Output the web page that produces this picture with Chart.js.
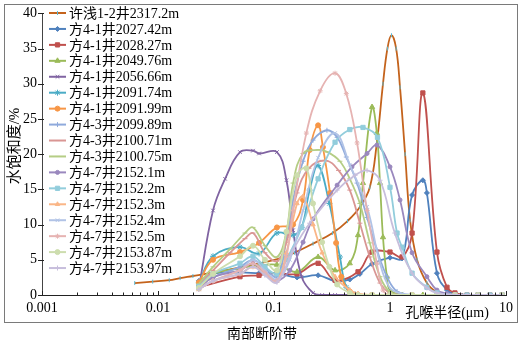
<!DOCTYPE html>
<html>
<head>
<meta charset="utf-8">
<script src="https://cdn.jsdelivr.net/npm/chart.js@4.4.1/dist/chart.umd.min.js"></script>
<style>
html,body{margin:0;padding:0;background:#fff;}
canvas{display:block;}
</style>
</head>
<body>
<canvas id="chart" width="523" height="345"></canvas>
<script>
const seriesNames = [
    "许浅1-2井2317.2m", "方4-1井2027.42m", "方4-1井2028.27m", "方4-1井2049.76m",
    "方4-1井2056.66m", "方4-1井2091.74m", "方4-1井2091.99m", "方4-3井2099.89m",
    "方4-3井2100.71m", "方4-3井2100.75m", "方4-7井2152.1m", "方4-7井2152.2m",
    "方4-7井2152.3m", "方4-7井2152.4m", "方4-7井2152.5m", "方4-7井2153.87m",
    "方4-7井2153.97m"
];

const xAxisTicks = [0.001, 0.01, 0.1, 1, 10];
const yAxisTicks = [0, 5, 10, 15, 20, 25, 30, 35, 40];

// radius (μm) / water saturation (%)
const r_xq2317 = [0.0063, 0.009, 0.0125, 0.0155, 0.02, 0.03, 0.05, 0.08, 0.113, 0.15, 0.217, 0.32, 0.43, 0.55, 0.67, 0.77, 0.87, 0.95, 1.03, 1.13, 1.22, 1.35, 1.49, 1.71, 2.08, 2.54, 3.2, 4.2, 5.5, 7.2, 9.5];
const v_xq2317 = [1.7, 1.9, 2.1, 2.4, 2.7, 3.2, 3.9, 4.6, 5.2, 6.0, 7.3, 8.8, 10.5, 12.5, 15.3, 21.6, 30.0, 35.0, 36.9, 35.0, 29.5, 20.0, 10.6, 5.0, 1.7, 0.4, 0.1, 0, 0, 0, 0];

const r_f2027 = [0.0225, 0.0298, 0.0509, 0.0743, 0.106, 0.158, 0.24, 0.336, 0.45, 0.55, 0.70, 1.0, 1.27, 1.55, 1.92, 2.08, 2.54, 3.10, 3.63, 4.61, 5.74, 7.28, 9.24];
const v_f2027 = [2.0, 3.0, 3.2, 3.1, 3.1, 2.5, 2.8, 2.0, 2.2, 3.0, 4.4, 5.3, 5.2, 14.2, 16.3, 14.5, 3.1, 0.7, 0.2, 0, 0, 0, 0];

const r_f2028 = [0.0225, 0.0509, 0.0743, 0.106, 0.158, 0.24, 0.336, 0.53, 0.70, 1.0, 1.27, 1.55, 1.92, 2.54, 3.10, 3.63, 4.61, 5.74, 7.28, 9.24];
const v_f2028 = [1.1, 2.6, 2.8, 3.1, 3.0, 4.5, 2.1, 3.3, 6.1, 6.1, 5.4, 8.8, 28.7, 6.1, 1.1, 0.3, 0, 0, 0, 0];

const r_f2049 = [0.0225, 0.0298, 0.0509, 0.0743, 0.106, 0.158, 0.24, 0.336, 0.45, 0.53, 0.585, 0.70, 0.77, 0.82, 0.87, 0.94, 1.0, 1.27, 1.55, 1.92, 2.54, 3.63, 4.61, 5.74, 7.28, 9.24];
const v_f2049 = [1.5, 3.0, 3.8, 4.2, 4.3, 3.3, 5.4, 3.5, 4.5, 8.5, 15.9, 26.7, 23.0, 15.9, 8.2, 2.6, 0.7, 0, 0, 0, 0, 0, 0, 0, 0, 0];

const r_f2056 = [0.0225, 0.0298, 0.0379, 0.0509, 0.0659, 0.0743, 0.106, 0.128, 0.146, 0.173, 0.217, 0.26, 0.336, 0.45, 0.70, 1.0, 1.55, 2.54, 3.63, 5.74, 9.24];
const v_f2056 = [1.0, 12.0, 16.5, 20.3, 20.5, 20.1, 20.3, 16.3, 9.2, 2.6, 0.3, 0, 0, 0, 0, 0, 0, 0, 0, 0, 0];

const r_f2091a = [0.0225, 0.0298, 0.0509, 0.0743, 0.106, 0.146, 0.173, 0.203, 0.24, 0.30, 0.37, 0.42, 0.5, 0.70, 1.0, 1.55, 2.54, 3.63, 5.74, 9.24];
const v_f2091a = [1.7, 5.5, 6.8, 5.9, 8.8, 8.5, 9.6, 14.9, 18.4, 13.0, 5.4, 1.1, 0.1, 0, 0, 0, 0, 0, 0, 0];

const r_f2091b = [0.0225, 0.0298, 0.0509, 0.0743, 0.106, 0.146, 0.178, 0.203, 0.24, 0.264, 0.304, 0.343, 0.38, 0.45, 0.53, 0.70, 1.0, 1.55, 2.54, 3.63, 5.74, 9.24];
const v_f2091b = [1.8, 5.0, 6.1, 7.4, 9.6, 10.0, 13.5, 20.6, 24.1, 21.0, 14.5, 7.4, 2.6, 0.5, 0, 0, 0, 0, 0, 0, 0, 0];

const r_f2099 = [0.0225, 0.0298, 0.0509, 0.0659, 0.0835, 0.106, 0.129, 0.146, 0.178, 0.217, 0.286, 0.35, 0.42, 0.52, 0.634, 0.772, 0.942, 1.15, 1.55, 2.54, 3.63, 5.74, 9.24];
const v_f2099 = [1.2, 2.5, 4.0, 5.0, 3.8, 2.6, 8.2, 13.5, 19.0, 22.0, 23.4, 22.4, 19.6, 15.9, 11.0, 6.4, 2.6, 0.5, 0, 0, 0, 0, 0];

const r_f2100a = [0.0225, 0.0298, 0.0418, 0.0562, 0.0659, 0.0835, 0.106, 0.128, 0.158, 0.2, 0.28, 0.36, 0.45, 0.55, 0.67, 0.82, 1.0, 1.27, 1.92, 2.54, 3.63, 5.74, 9.24];
const v_f2100a = [1.5, 3.5, 6.0, 8.0, 8.8, 6.0, 4.8, 7.5, 14.5, 18.0, 19.1, 17.7, 14.9, 10.2, 5.4, 1.7, 0.3, 0, 0, 0, 0, 0, 0];

const r_f2100b = [0.0225, 0.0298, 0.0418, 0.0562, 0.0659, 0.0835, 0.106, 0.128, 0.146, 0.178, 0.24, 0.29, 0.37, 0.45, 0.55, 0.67, 0.82, 1.0, 1.27, 1.92, 2.54, 3.63, 5.74, 9.24];
const v_f2100b = [1.6, 4.0, 6.5, 8.8, 9.6, 7.0, 5.4, 9.0, 15.9, 20.1, 20.6, 20.3, 19.0, 16.5, 13.0, 7.4, 2.6, 0.4, 0, 0, 0, 0, 0, 0];

const r_f2152a = [0.0225, 0.0298, 0.0509, 0.0659, 0.0835, 0.106, 0.137, 0.178, 0.217, 0.35, 0.47, 0.634, 0.772, 1.0, 1.22, 1.55, 2.08, 2.54, 3.1, 3.63, 4.61, 5.74, 7.28, 9.24];
const v_f2152a = [1.0, 2.5, 3.5, 4.5, 3.0, 2.0, 3.5, 7.5, 10.8, 15.6, 18.2, 20.1, 21.3, 18.2, 13.5, 6.0, 2.6, 0.7, 0.2, 0, 0, 0, 0, 0];

const r_f2152b = [0.0225, 0.0298, 0.0509, 0.0659, 0.0835, 0.106, 0.128, 0.173, 0.24, 0.336, 0.45, 0.585, 0.78, 1.0, 1.15, 1.27, 1.55, 2.08, 2.54, 3.63, 4.61, 5.74, 7.28, 9.24];
const v_f2152b = [1.2, 3.0, 4.5, 5.5, 4.0, 3.0, 5.0, 9.6, 16.5, 21.7, 23.5, 23.8, 22.4, 15.3, 8.8, 6.8, 3.1, 1.1, 0.3, 0, 0, 0, 0, 0];

const r_f2152c = [0.0225, 0.0298, 0.0509, 0.0659, 0.0835, 0.106, 0.128, 0.158, 0.178, 0.217, 0.26, 0.336, 0.45, 0.53, 0.70, 1.0, 1.55, 2.54, 3.63, 5.74, 9.24];
const v_f2152c = [0.8, 2.0, 3.0, 4.0, 3.0, 2.0, 6.0, 13.0, 14.0, 10.0, 6.0, 2.6, 0.7, 0.2, 0, 0, 0, 0, 0, 0, 0];

const r_f2152d = [0.0225, 0.0298, 0.0509, 0.0659, 0.0835, 0.106, 0.137, 0.178, 0.24, 0.336, 0.45, 0.634, 0.82, 1.0, 1.27, 1.55, 2.54, 3.63, 5.74, 9.24];
const v_f2152d = [0.8, 2.0, 3.5, 5.0, 3.5, 2.2, 5.0, 12.0, 19.5, 23.0, 18.5, 12.5, 4.5, 1.0, 0.2, 0, 0, 0, 0, 0];

const r_f2152e = [0.0225, 0.0298, 0.0509, 0.0659, 0.0835, 0.106, 0.128, 0.146, 0.19, 0.25, 0.336, 0.42, 0.52, 0.634, 0.77, 0.87, 1.0, 1.55, 2.54, 3.63, 5.74, 9.24];
const v_f2152e = [0.8, 2.0, 3.5, 4.5, 3.2, 2.0, 5.5, 12.0, 23.0, 29.0, 31.5, 28.6, 21.6, 12.0, 4.5, 0.7, 0, 0, 0, 0, 0, 0];

const r_f2153a = [0.0225, 0.0298, 0.0509, 0.0659, 0.0835, 0.106, 0.128, 0.158, 0.19, 0.217, 0.26, 0.30, 0.35, 0.45, 0.53, 0.70, 1.0, 1.55, 2.54, 3.63, 5.74, 9.24];
const v_f2153a = [1.0, 3.0, 5.5, 7.0, 5.0, 3.5, 9.0, 17.0, 18.0, 13.0, 7.5, 4.0, 1.5, 0.3, 0, 0, 0, 0, 0, 0, 0, 0];

const r_f2153b = [0.0225, 0.0298, 0.0509, 0.0659, 0.0835, 0.106, 0.146, 0.203, 0.35, 0.50, 0.634, 0.82, 1.1, 1.55, 2.08, 2.54, 3.63, 4.61, 5.74, 7.28, 9.24];
const v_f2153b = [0.8, 2.0, 3.0, 4.0, 2.8, 1.8, 6.4, 10.2, 14.9, 17.0, 17.7, 16.3, 8.8, 3.1, 1.0, 0.3, 0, 0, 0, 0, 0];

const radii = [r_xq2317, r_f2027, r_f2028, r_f2049, r_f2056, r_f2091a, r_f2091b, r_f2099,
    r_f2100a, r_f2100b, r_f2152a, r_f2152b, r_f2152c, r_f2152d, r_f2152e, r_f2153a, r_f2153b];
const saturations = [v_xq2317, v_f2027, v_f2028, v_f2049, v_f2056, v_f2091a, v_f2091b, v_f2099,
    v_f2100a, v_f2100b, v_f2152a, v_f2152b, v_f2152c, v_f2152d, v_f2152e, v_f2153a, v_f2153b];

// line colour, marker style
const styles = [
    {c:"#C4631C", p:"line", r:2, rot:90, pc:"#5DBAD3"},
    {c:"#4F81BD", p:"rectRot", r:2.5},
    {c:"#C0504D", p:"rect", r:3},
    {c:"#9BBB59", p:"triangle", r:3},
    {c:"#8064A2", p:"crossRot", r:2.5},
    {c:"#4BACC6", p:"star", r:3},
    {c:"#F79646", p:"circle", r:2.5},
    {c:"#8FAADC", p:"cross", r:2.5},
    {c:"#D99694", p:"line", r:2.5},
    {c:"#B5CD85", p:"line", r:2.5},
    {c:"#9A88BE", p:"circle", r:2},
    {c:"#92CDDC", p:"rect", r:3},
    {c:"#FAB687", p:"triangle", r:2.5},
    {c:"#B1C3E6", p:"crossRot", r:2.5},
    {c:"#E6B3B2", p:"star", r:2.5},
    {c:"#CDDDAE", p:"circle", r:2.5},
    {c:"#C7BEDC", p:"cross", r:2.5}
];

const serif = "'Liberation Serif','Noto Sans CJK SC',serif";
const n = seriesNames.length;

const datasets = seriesNames.map(function (name, i) {
    const s = styles[i];
    return {
        label: name,
        data: radii[i].map(function (r, j) { return {x: r, y: saturations[i][j]}; }),
        borderColor: s.c,
        backgroundColor: s.pc || s.c,
        pointBorderColor: s.pc || s.c,
        pointBackgroundColor: s.pc || s.c,
        pointStyle: s.p,
        pointRadius: s.r,
        pointRotation: s.rot || 0,
        pointBorderWidth: 1,
        borderWidth: 1.8,
        tension: 0.4,
        fill: false,
        order: n - i
    };
});

// frame, titles, inside ticks and legend
const decor = {
    id: "decor",
    beforeDraw(chart) {
        const ctx = chart.ctx;
        ctx.save();
        ctx.fillStyle = "#fff";
        ctx.fillRect(0, 0, chart.width, chart.height);
        ctx.restore();
    },
    afterDraw(chart) {
        const ctx = chart.ctx, area = chart.chartArea;
        const xs = chart.scales.x, ys = chart.scales.y;
        ctx.save();

        ctx.strokeStyle = "#222";
        ctx.lineWidth = 1;
        ctx.beginPath();
        xs.ticks.forEach(function (t) {
            const l = Math.log10(t.value);
            const major = Math.abs(l - Math.round(l)) < 1e-6;
            const px = Math.round(xs.getPixelForValue(t.value)) + 0.5;
            ctx.moveTo(px, area.bottom);
            ctx.lineTo(px, area.bottom - (major ? 4 : 2.5));
        });
        ys.ticks.forEach(function (t) {
            const py = Math.round(ys.getPixelForValue(t.value)) + 0.5;
            ctx.moveTo(area.left - 4, py);
            ctx.lineTo(area.left + 2, py);
        });
        ctx.stroke();

        ctx.strokeStyle = "#7a7a7a";
        ctx.strokeRect(4.5, 4.5, 513, 318);

        ctx.fillStyle = "#000";
        ctx.textAlign = "center";
        ctx.textBaseline = "middle";
        ctx.font = "14px " + serif;
        ctx.fillText("孔喉半径(μm)", 447, 313);
        ctx.fillText("南部断阶带", 262, 334);

        ctx.save();
        ctx.translate(15, 146);
        ctx.rotate(-Math.PI / 2);
        ctx.font = "15px " + serif;
        ctx.fillText("水饱和度/%", 0, 0);
        ctx.restore();

        // legend
        ctx.textAlign = "left";
        ctx.font = "14px " + serif;
        seriesNames.forEach(function (name, i) {
            const s = styles[i];
            const y = 13 + i * 15.94;
            ctx.strokeStyle = s.c;
            ctx.lineWidth = 2;
            ctx.beginPath();
            ctx.moveTo(49, y);
            ctx.lineTo(66, y);
            ctx.stroke();
            if (Chart.helpers && Chart.helpers.drawPoint) {
                ctx.fillStyle = s.pc || s.c;
                ctx.strokeStyle = s.pc || s.c;
                ctx.lineWidth = 1;
                Chart.helpers.drawPoint(ctx, {pointStyle: s.p, radius: s.r, rotation: s.rot || 0, borderWidth: 1}, 57.5, y);
            }
            ctx.fillStyle = "#000";
            ctx.fillText(name, 69, y + 1);
        });
        ctx.restore();
    }
};

new Chart(document.getElementById("chart"), {
    type: "line",
    data: { datasets: datasets },
    plugins: [decor],
    options: {
        responsive: false,
        animation: false,
        devicePixelRatio: 1,
        events: [],
        layout: { padding: { left: 0, right: 17, top: 13, bottom: 0 } },
        plugins: { legend: { display: false }, tooltip: { enabled: false } },
        scales: {
            x: {
                type: "logarithmic",
                min: 0.001,
                max: 10,
                afterFit: function (s) { s.height = 50; },
                grid: { display: false, drawTicks: false },
                border: { display: true, color: "#222", width: 1 },
                ticks: {
                    autoSkip: false,
                    maxRotation: 0,
                    padding: 5,
                    color: "#000",
                    font: { family: serif, size: 14 },
                    callback: function (value) {
                        return xAxisTicks.indexOf(Number(value.toPrecision(3))) >= 0 ? String(Number(value.toPrecision(1))) : "";
                    }
                }
            },
            y: {
                min: 0,
                max: 40,
                afterFit: function (s) { s.width = 42; },
                afterBuildTicks: function (s) { s.ticks = yAxisTicks.map(function (v) { return {value: v}; }); },
                grid: { display: false, drawTicks: false },
                border: { display: true, color: "#444", width: 1 },
                ticks: {
                    padding: 5,
                    color: "#000",
                    font: { family: serif, size: 14 }
                }
            }
        }
    }
});
</script>
</body>
</html>
